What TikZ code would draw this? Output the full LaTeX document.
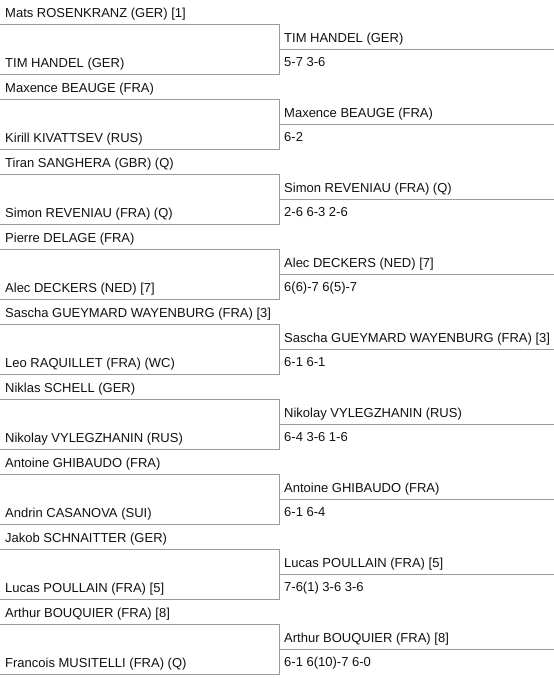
\documentclass[tikz,border=0pt]{standalone}
\usepackage{fontspec}
\setmainfont{Liberation Sans}
\usepackage{tikz}

\definecolor{txtcol}{HTML}{111111}
\definecolor{rulecol}{HTML}{9A9A9A}

\tikzset{
  player/.style={anchor=base west, inner sep=0pt, text=txtcol, font=\fontsize{13}{15}\selectfont},
  rule/.style={draw=rulecol, line width=1pt}
}

\begin{document}
\begin{tikzpicture}[x=1pt, y=-1pt]
 			%%%	Frame
 			\useasboundingbox (0,0) rectangle (554,678);
 			%%%	Matches
 			\foreach \top/\bot/\win/\score [count=\i from 0] in {
 				{Mats ROSENKRANZ (GER) [1]}/{TIM HANDEL (GER)}/{TIM HANDEL (GER)}/{5-7 3-6},
 				{Maxence BEAUGE (FRA)}/{Kirill KIVATTSEV (RUS)}/{Maxence BEAUGE (FRA)}/{6-2},
 				{Tiran SANGHERA (GBR) (Q)}/{Simon REVENIAU (FRA) (Q)}/{Simon REVENIAU (FRA) (Q)}/{2-6 6-3 2-6},
 				{Pierre DELAGE (FRA)}/{Alec DECKERS (NED) [7]}/{Alec DECKERS (NED) [7]}/{6(6)-7 6(5)-7},
 				{Sascha GUEYMARD WAYENBURG (FRA) [3]}/{Leo RAQUILLET (FRA) (WC)}/{Sascha GUEYMARD WAYENBURG (FRA) [3]}/{6-1 6-1},
 				{Niklas SCHELL (GER)}/{Nikolay VYLEGZHANIN (RUS)}/{Nikolay VYLEGZHANIN (RUS)}/{6-4 3-6 1-6},
 				{Antoine GHIBAUDO (FRA)}/{Andrin CASANOVA (SUI)}/{Antoine GHIBAUDO (FRA)}/{6-1 6-4},
 				{Jakob SCHNAITTER (GER)}/{Lucas POULLAIN (FRA) [5]}/{Lucas POULLAIN (FRA) [5]}/{7-6(1) 3-6 3-6},
 				{Arthur BOUQUIER (FRA) [8]}/{Francois MUSITELLI (FRA) (Q)}/{Arthur BOUQUIER (FRA) [8]}/{6-1 6(10)-7 6-0}}
 			{
 				\pgfmathsetmacro{\yy}{75*\i}
 				\node[player] (top\i) at (5,17+\yy) {\top};
 				\node[player] (bot\i) at (5,67+\yy) {\bot};
 				\node[player] (win\i) at (284,42+\yy) {\win};
 				\node[player] (res\i) at (284,66+\yy) {\score};
 				\coordinate (a\i) at (0,24+\yy);
 				\coordinate (b\i) at (279,24+\yy);
 				\coordinate (c\i) at (279,74+\yy);
 				\coordinate (d\i) at (0,74+\yy);
 				\coordinate (m\i) at (279,49+\yy);
 				\coordinate (e\i) at (554,49+\yy);
 				\draw[rule] (a\i) -- (b\i) -- (c\i) -- (d\i);
 				\draw[rule] (m\i) -- (e\i);
 			}
\end{tikzpicture}
\end{document}
